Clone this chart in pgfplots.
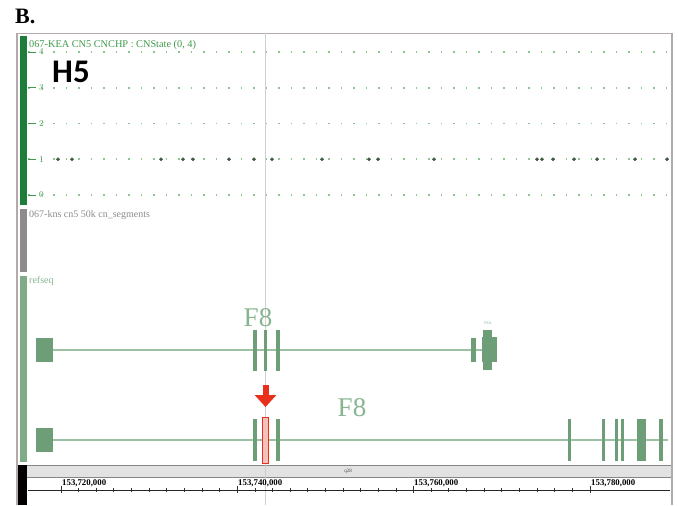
\documentclass[border=0pt]{standalone}
\usepackage{fontspec}
\setmainfont{Liberation Serif}
\newfontfamily\hfont{Carlito}
\usepackage{pgfplots}
\pgfplotsset{compat=1.18}
\usetikzlibrary{arrows.meta}

\definecolor{framegrey}{HTML}{B3ABAB}
\definecolor{cnbar}{HTML}{1E7D3A}
\definecolor{segbar}{HTML}{8C8C8C}
\definecolor{refbar}{HTML}{7FAB86}
\definecolor{bandgrey}{HTML}{E2E2E2}
\definecolor{bandline}{HTML}{858585}
\definecolor{vline}{HTML}{CFCFCF}
\definecolor{titlegreen}{HTML}{3F9A4A}
\definecolor{gridgreen}{HTML}{8CC68F}
\definecolor{dotdark}{HTML}{3E5842}
\definecolor{exon}{HTML}{6D9E77}
\definecolor{intron}{HTML}{9CC2A3}
\definecolor{genelabel}{HTML}{88B590}
\definecolor{mutred}{HTML}{E8301C}
\definecolor{mutfill}{HTML}{F4C2BA}

% copy-number calls (position in kb past 153,700,000)
\pgfplotstableread{
pos cn
19.660 1
21.248 1
31.342 1
33.837 1
34.971 1
39.055 1
41.891 1
43.932 1
49.603 1
54.934 1
55.955 1
62.306 1
73.989 1
74.556 1
75.804 1
78.186 1
80.795 1
85.105 1
88.735 1
}\cncalls

\begin{document}
\begin{tikzpicture}[x=1pt,y=1pt]
% page and browser frame
\fill[white] (0,0) rectangle (678,505);
\draw[framegrey, line width=1.6pt] (17,0) -- (17,471.5) -- (672,471.5) -- (672,0);
% track side bars
\fill[cnbar]  (19.5,300) rectangle (26.5,469);
\fill[segbar] (19.5,233) rectangle (26.5,296);
\fill[refbar] (19.5,43)  rectangle (26.5,229);
\fill[black]  (18,0)     rectangle (27,40);
% cytoband strip
\fill[bandgrey] (27,28) rectangle (671,40);
\draw[bandline, line width=0.9pt] (27,40) -- (671,40) (27,28) -- (671,28);
% cursor line
\draw[vline, line width=1pt] (265.5,0) -- (265.5,471.5);

% copy-number track
\begin{axis}[at={(28pt,302.85pt)}, anchor=south west, scale only axis,
  width=642pt, height=157.3pt,
  xmin=16.257, xmax=89.074, ymin=-0.2, ymax=4.2,
  axis line style={draw=none}, xtick=\empty,
  ytick={0,1,2,3,4}, ytick pos=left,
  ymajorgrids, major grid style={gridgreen, line width=1.6pt, dash pattern=on 1.8pt off 10.7pt},
  major tick length=8pt, tick align=inside, tick style={titlegreen, line width=0.9pt},
  yticklabel style={anchor=west, xshift=11pt, inner sep=0pt, font=\fontsize{9}{9}\selectfont, text=titlegreen},
  clip=false]
\addplot[only marks, mark=*, mark size=1.7pt, color=dotdark] table[x=pos, y=cn] {\cncalls};
\end{axis}

% refseq genes (x in kb past 153,700,000, y in rows from the top)
\begin{axis}[at={(0pt,0pt)}, anchor=south west, scale only axis,
  width=678pt, height=505pt,
  xmin=13.081, xmax=89.981, ymin=0, ymax=505, y dir=reverse,
  axis lines=none, clip=false, unbounded coords=jump]
% introns
\addplot[intron, line width=1.3pt] coordinates {(19.093,350) (67.751,350)};
\addplot[intron, line width=1.3pt] coordinates {(19.093,440) (88.846,440)};
% first-exon boxes
\addplot[fill=exon, draw=none] coordinates {(17.164,338) (19.093,338) (19.093,362) (17.164,362)};
\addplot[fill=exon, draw=none] coordinates {(17.164,428) (19.093,428) (19.093,452) (17.164,452)};
% thin exons, upper transcript
\addplot[exon, line width=3.2pt] coordinates {
 (42.004,330) (42.004,371) (42.004,nan)
 (43.195,330) (43.195,371) (43.195,nan)
 (44.612,330) (44.612,371)};
\addplot[exon, line width=5pt] coordinates {(66.786,338) (66.786,362)};
\addplot[fill=exon, draw=none] coordinates {(67.751,337) (69.452,337) (69.452,362) (67.751,362)};
\addplot[fill=exon, draw=none] coordinates {(67.830,330) (68.851,330) (68.851,370) (67.830,370)};
% thin exons, lower transcript
\addplot[exon, line width=3.2pt] coordinates {
 (42.004,419) (42.004,461) (42.004,nan)
 (44.612,419) (44.612,461) (44.612,nan)
 (77.692,419) (77.692,461) (77.692,nan)
 (81.548,419) (81.548,461) (81.548,nan)
 (83.023,419) (83.023,461) (83.023,nan)
 (83.703,419) (83.703,461) (83.703,nan)
 (88.052,419) (88.052,461)};
\addplot[fill=exon, draw=none] coordinates {(85.330,419) (86.351,419) (86.351,461) (85.330,461)};
% mutated exon and its marker
\addplot[fill=mutfill, draw=mutred, line width=0.9pt] coordinates {(42.877,417) (43.513,417) (43.513,463) (42.877,463) (42.877,417)};
\addplot[mutred, line width=6pt, -{Triangle[width=21pt,length=12pt]}] coordinates {(43.195,385) (43.195,407)};
\end{axis}

% position ruler
\begin{axis}[at={(28pt,15pt)}, anchor=south west, scale only axis,
  width=642pt, height=10pt,
  xmin=16.257, xmax=89.074, ymin=0, ymax=1,
  axis x line*=bottom, axis y line=none,
  x axis line style={line width=0.9pt, color=black!85},
  xtick={20,40,60,80}, xticklabels={}, minor x tick num=9,
  major tick length=7pt, minor tick length=3.5pt, tick align=center,
  tick style={line width=0.9pt, color=black!80},
  clip=false]
\end{axis}

% labels
\node[anchor=base west, inner sep=0pt] at (15,481) {\fontsize{22}{22}\selectfont\bfseries B.};
\node[anchor=base west, inner sep=0pt, text=titlegreen] at (29,457) {\fontsize{10.3}{10.3}\selectfont 067-KEA CN5 CNCHP : CNState (0, 4)};
\node[anchor=base west, inner sep=0pt] at (52,422) {\hfont\bfseries\fontsize{33}{33}\selectfont H5};
\node[anchor=base west, inner sep=0pt, text=segbar] at (29,287) {\fontsize{10}{10}\selectfont 067-kns cn5 50k cn\_segments};
\node[anchor=base west, inner sep=0pt, text=genelabel] at (29,221) {\fontsize{10}{10}\selectfont refseq};
\node[anchor=base, inner sep=0pt, text=genelabel] at (258,178) {\fontsize{27}{27}\selectfont F8};
\node[anchor=base, inner sep=0pt, text=genelabel] at (352,88) {\fontsize{27}{27}\selectfont F8};
\node[anchor=base, inner sep=0pt, text=genelabel] at (488,180) {\fontsize{4}{4}\selectfont F8A};
\node[inner sep=0pt, text=black!70] at (348,34) {\fontsize{5}{5}\selectfont q28};
\node[anchor=base west, inner sep=0pt] at (62,19) {\fontsize{8.8}{8.8}\selectfont\bfseries 153,720,000};
\node[anchor=base west, inner sep=0pt] at (238,19) {\fontsize{8.8}{8.8}\selectfont\bfseries 153,740,000};
\node[anchor=base west, inner sep=0pt] at (414,19) {\fontsize{8.8}{8.8}\selectfont\bfseries 153,760,000};
\node[anchor=base west, inner sep=0pt] at (591,19) {\fontsize{8.8}{8.8}\selectfont\bfseries 153,780,000};
\end{tikzpicture}
\end{document}
